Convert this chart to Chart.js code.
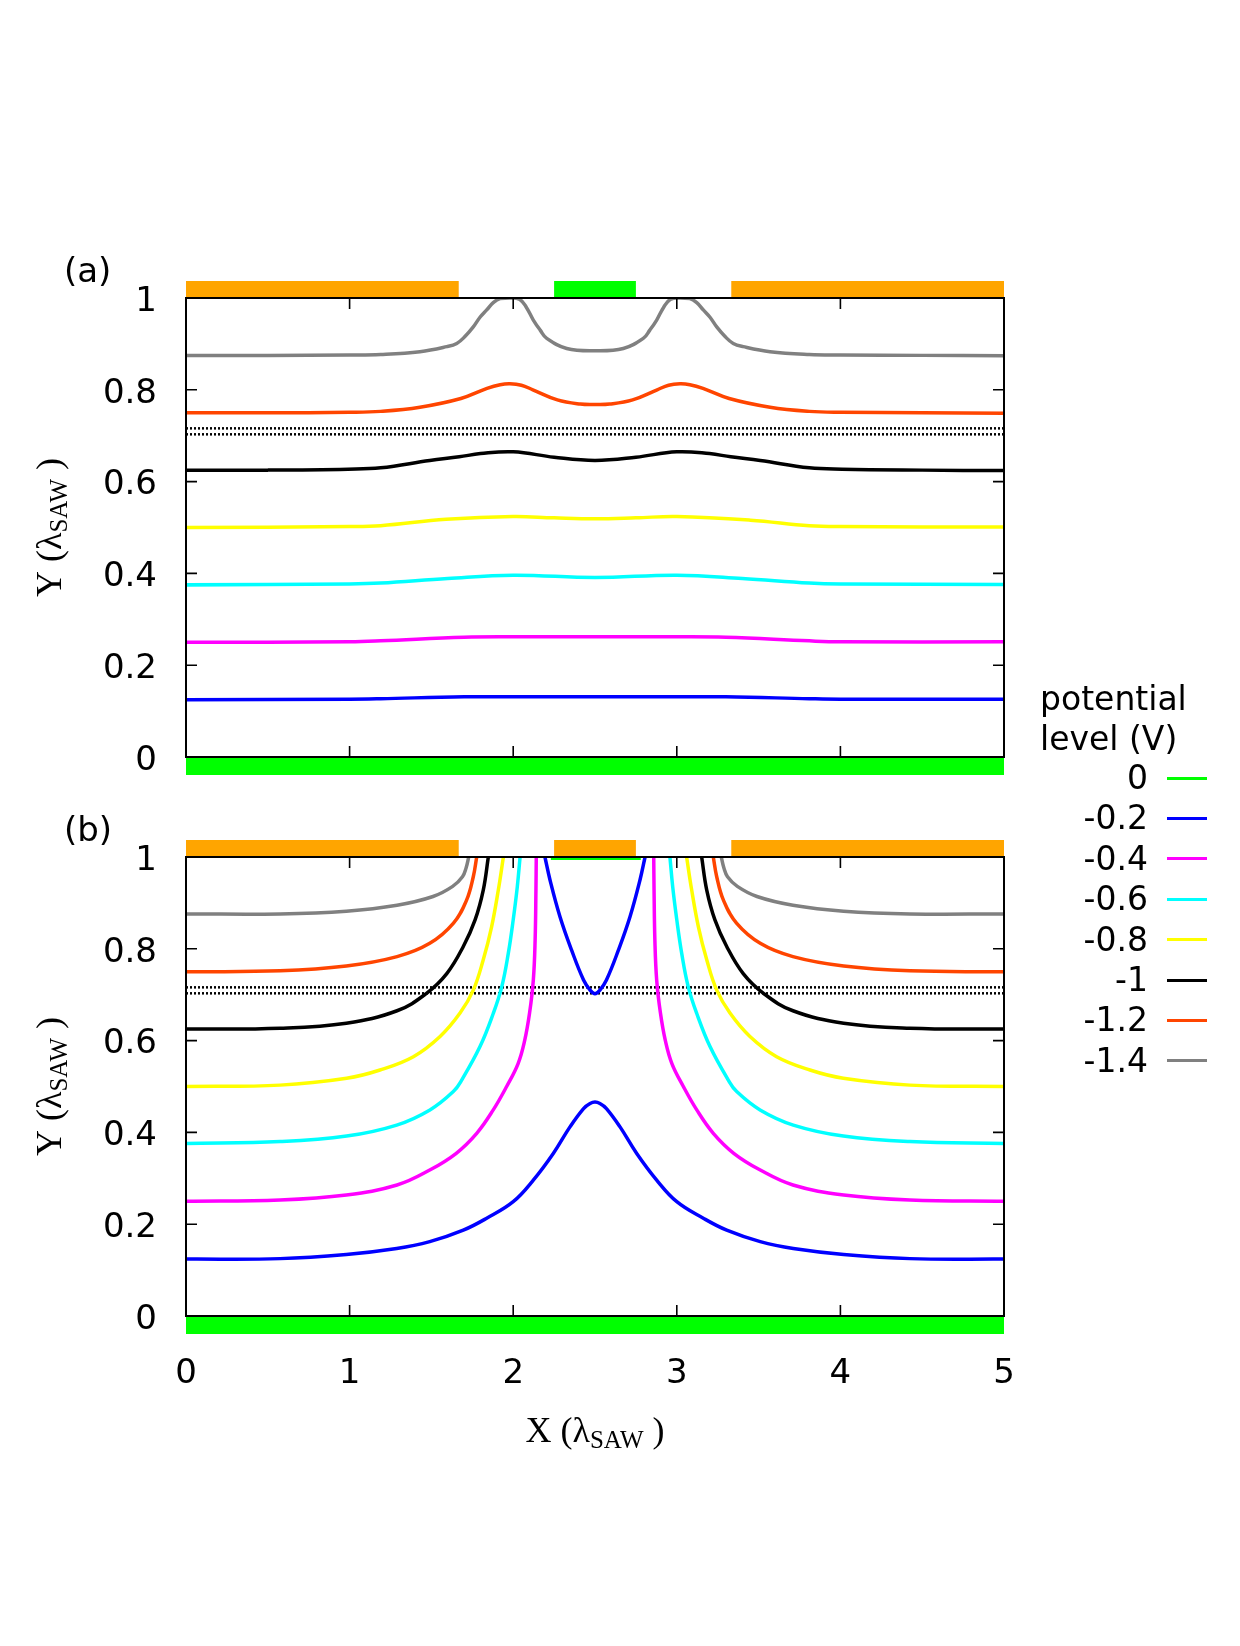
<!DOCTYPE html>
<html>
<head>
<meta charset="utf-8">
<script src="https://cdn.jsdelivr.net/npm/chart.js@4.4.0/dist/chart.umd.min.js"></script>
<style>
  html, body { margin: 0; padding: 0; background: #fff; }
  #page { position: relative; width: 1240px; height: 1646px; overflow: hidden; background: #fff; }
  #page canvas { position: absolute; left: 0; }
  #chartA { top: 0; }
  #chartB { top: 800px; }
  .leg { position: absolute; font-family: "DejaVu Sans", sans-serif; font-size: 33px; color: #000; white-space: nowrap; }
  .legLine { position: absolute; height: 3px; width: 40px; }
</style>
</head>
<body>
<div id="page">
  <canvas id="chartA" width="1240" height="830"></canvas>
  <canvas id="chartB" width="1240" height="846"></canvas>
  <div id="legend"></div>
</div>
<script>
// niveaux de potentiel (V) et couleurs de la légende
const levels = ['0', '-0.2', '-0.4', '-0.6', '-0.8', '-1', '-1.2', '-1.4'];
const levelColors = ['#00ff00', '#0000ff', '#ff00ff', '#00ffff', '#ffff00', '#000000', '#ff4500', '#808080'];

// axes (λSAW)
const xRange = [0, 5];
const yRange = [0, 1];
const xStep = 1;
const yStep = 0.2;

// électrodes : intervalles en X
const topElectrodes = [[0, 1.667], [2.25, 2.75], [3.333, 5]];
const groundElectrode = [0, 5];
// deux lignes pointillées horizontales
const dottedLevels = [0.716, 0.703];

// ---- (a) : contours [x, y]
const a_m02 = [[0, 0.125], [1.0, 0.126], [1.19, 0.127], [1.7, 0.131], [2.5, 0.131], [3.3, 0.131], [3.81, 0.127], [4.0, 0.126], [5, 0.126]];
const a_m04 = [[0, 0.25], [1.0, 0.251], [1.19, 0.253], [1.7, 0.261], [2.0, 0.262], [2.5, 0.262], [3.0, 0.262], [3.3, 0.261],
  [3.81, 0.253], [4.0, 0.251], [5, 0.251]];
const a_m06 = [[0, 0.375], [1.0, 0.377], [1.19, 0.379], [1.6, 0.389], [2.0, 0.396], [2.5, 0.391], [3.0, 0.396], [3.4, 0.389],
  [3.81, 0.379], [4.0, 0.377], [5, 0.376]];
const a_m08 = [[0, 0.5], [1.0, 0.502], [1.19, 0.504], [1.59, 0.518], [2.0, 0.524], [2.25, 0.521], [2.5, 0.519], [2.75, 0.521],
  [3.0, 0.524], [3.45, 0.516], [3.81, 0.504], [4.0, 0.502], [5, 0.501]];
const a_m10 = [[0, 0.625], [0.5, 0.625], [0.99, 0.627], [1.19, 0.630], [1.49, 0.646], [1.67, 0.654], [1.8, 0.661], [2.0, 0.665],
  [2.25, 0.653], [2.5, 0.646], [2.75, 0.653], [3.0, 0.665], [3.2, 0.661], [3.33, 0.654], [3.51, 0.646], [3.81, 0.630],
  [4.01, 0.627], [4.5, 0.625], [5, 0.624]];
const a_m12 = [[0, 0.75], [0.5, 0.75], [1.0, 0.751], [1.19, 0.753], [1.43, 0.762], [1.68, 0.781], [1.84, 0.803], [1.92, 0.811],
  [1.98, 0.813], [2.05, 0.81], [2.12, 0.80], [2.27, 0.778], [2.41, 0.769], [2.5, 0.768], [2.59, 0.769], [2.73, 0.778], [2.88, 0.80],
  [2.95, 0.81], [3.02, 0.813], [3.08, 0.811], [3.16, 0.803], [3.32, 0.781], [3.57, 0.762], [3.81, 0.753], [4.0, 0.751], [4.5, 0.75], [5, 0.749]];
const a_m14 = [[0, 0.875], [0.5, 0.875], [1.0, 0.876], [1.19, 0.877], [1.43, 0.883], [1.594, 0.894], [1.655, 0.901], [1.705, 0.916],
  [1.756, 0.937], [1.797, 0.958], [1.838, 0.974], [1.878, 0.99], [1.92, 0.999], [1.98, 1.0], [2.04, 0.997], [2.08, 0.98], [2.123, 0.952],
  [2.165, 0.93], [2.205, 0.912], [2.327, 0.89], [2.5, 0.885], [2.673, 0.89], [2.795, 0.912], [2.835, 0.93], [2.877, 0.952], [2.92, 0.98],
  [2.96, 0.997], [3.02, 1.0], [3.08, 0.999], [3.122, 0.99], [3.162, 0.974], [3.203, 0.958], [3.244, 0.937], [3.295, 0.916],
  [3.345, 0.901], [3.406, 0.894], [3.57, 0.883], [3.81, 0.877], [4.0, 0.876], [4.5, 0.875], [5, 0.874]];

// ---- (b) : contours [x, y]
const b_0 = [[2.23, 1.0], [2.78, 1.0]];
const b_m02 = [[0, 0.124], [0.575, 0.125], [0.98, 0.134], [1.288, 0.147], [1.49, 0.162], [1.695, 0.187], [1.838, 0.213], [2.0, 0.249],
  [2.123, 0.296], [2.245, 0.354], [2.347, 0.412], [2.43, 0.452], [2.47, 0.463], [2.5, 0.466], [2.53, 0.463], [2.57, 0.452],
  [2.653, 0.412], [2.755, 0.354], [2.877, 0.296], [3.0, 0.249], [3.162, 0.213], [3.305, 0.187], [3.51, 0.162], [3.712, 0.147],
  [4.02, 0.134], [4.425, 0.125], [5, 0.124]];
const b_m02_loop = [[2.194, 1.0], [2.225, 0.95], [2.286, 0.87], [2.357, 0.797], [2.43, 0.732], [2.47, 0.71], [2.5, 0.702],
  [2.53, 0.71], [2.57, 0.732], [2.643, 0.797], [2.714, 0.87], [2.775, 0.95], [2.806, 1.0]];
const b_m04_left = [[0, 0.25], [0.575, 0.2527], [0.98, 0.2636], [1.29, 0.2854], [1.49, 0.318], [1.65, 0.354], [1.777, 0.398],
  [1.878, 0.449], [1.96, 0.50], [2.03, 0.55], [2.07, 0.60], [2.10, 0.66], [2.123, 0.732], [2.134, 0.819], [2.139, 0.928], [2.141, 1.0]];
const b_m04_right = [[2.859, 1.0], [2.861, 0.928], [2.866, 0.819], [2.877, 0.732], [2.90, 0.66], [2.93, 0.60], [2.97, 0.55],
  [3.04, 0.50], [3.122, 0.449], [3.223, 0.398], [3.35, 0.354], [3.51, 0.318], [3.71, 0.2854], [4.02, 0.2636], [4.425, 0.2527], [5, 0.25]];
const b_m06_left = [[0, 0.376], [0.575, 0.380], [0.982, 0.392], [1.288, 0.416], [1.491, 0.449], [1.634, 0.489], [1.685, 0.514],
  [1.797, 0.587], [1.878, 0.659], [1.93, 0.717], [1.97, 0.79], [2.0, 0.863], [2.025, 0.935], [2.042, 1.0]];
const b_m06_right = [[2.958, 1.0], [2.975, 0.935], [3.0, 0.863], [3.03, 0.79], [3.07, 0.717], [3.122, 0.659], [3.203, 0.587],
  [3.315, 0.514], [3.366, 0.489], [3.509, 0.449], [3.712, 0.416], [4.018, 0.392], [4.425, 0.380], [5, 0.376]];
const b_m08_left = [[0, 0.5], [0.575, 0.503], [0.982, 0.518], [1.186, 0.536], [1.39, 0.565], [1.553, 0.609], [1.675, 0.66],
  [1.756, 0.71], [1.817, 0.776], [1.868, 0.848], [1.909, 0.928], [1.94, 1.0]];
const b_m08_right = [[3.06, 1.0], [3.091, 0.928], [3.132, 0.848], [3.183, 0.776], [3.244, 0.71], [3.325, 0.66], [3.447, 0.609],
  [3.61, 0.565], [3.814, 0.536], [4.018, 0.518], [4.425, 0.503], [5, 0.5]];
const b_m10_left = [[0, 0.625], [0.575, 0.627], [0.98, 0.638], [1.29, 0.665], [1.47, 0.703], [1.594, 0.746], [1.695, 0.805],
  [1.767, 0.863], [1.817, 0.928], [1.848, 1.0]];
const b_m10_right = [[3.152, 1.0], [3.183, 0.928], [3.233, 0.863], [3.305, 0.805], [3.406, 0.746], [3.53, 0.703], [3.71, 0.665],
  [4.02, 0.638], [4.425, 0.627], [5, 0.625]];
const b_m12_left = [[0, 0.75], [0.575, 0.752], [0.98, 0.7625], [1.29, 0.783], [1.49, 0.812], [1.635, 0.856], [1.715, 0.906],
  [1.756, 0.957], [1.777, 1.0]];
const b_m12_right = [[3.223, 1.0], [3.244, 0.957], [3.285, 0.906], [3.365, 0.856], [3.51, 0.812], [3.71, 0.783], [4.02, 0.7625],
  [4.425, 0.752], [5, 0.75]];
const b_m14_left = [[0, 0.876], [0.575, 0.876], [0.98, 0.882], [1.29, 0.895], [1.51, 0.914], [1.63, 0.936], [1.69, 0.957],
  [1.712, 0.976], [1.728, 1.0]];
const b_m14_right = [[3.272, 1.0], [3.288, 0.976], [3.31, 0.957], [3.37, 0.936], [3.49, 0.914], [3.71, 0.895], [4.02, 0.882],
  [4.425, 0.876], [5, 0.876]];

// --- construction des datasets (courbes lissées)
function contour(points, color, width) {
  return {
    data: points.map(p => ({ x: p[0], y: p[1] })),
    borderColor: color,
    borderWidth: width || 3.5,
    pointRadius: 0,
    tension: 0.4,
    fill: false
  };
}

function dottedSets() {
  return dottedLevels.map(v => ({
    data: xRange.map(x => ({ x: x, y: v })),
    borderColor: '#000',
    borderWidth: 2.5,
    borderDash: [2, 2],
    pointRadius: 0,
    fill: false
  }));
}

const datasetsA = [
  contour(a_m02, levelColors[1]),
  contour(a_m04, levelColors[2]),
  contour(a_m06, levelColors[3]),
  contour(a_m08, levelColors[4]),
  contour(a_m10, levelColors[5]),
  contour(a_m12, levelColors[6]),
  contour(a_m14, levelColors[7])
].concat(dottedSets());

const datasetsB = [
  contour(b_0, levelColors[0], 6),
  contour(b_m02, levelColors[1]), contour(b_m02_loop, levelColors[1]),
  contour(b_m04_left, levelColors[2]), contour(b_m04_right, levelColors[2]),
  contour(b_m06_left, levelColors[3]), contour(b_m06_right, levelColors[3]),
  contour(b_m08_left, levelColors[4]), contour(b_m08_right, levelColors[4]),
  contour(b_m10_left, levelColors[5]), contour(b_m10_right, levelColors[5]),
  contour(b_m12_left, levelColors[6]), contour(b_m12_right, levelColors[6]),
  contour(b_m14_left, levelColors[7]), contour(b_m14_right, levelColors[7])
].concat(dottedSets());

// titre avec indice (λ_SAW)
function drawSubTitle(ctx, parts, cx, cy) {
  const mainFont = '36px "Liberation Serif", serif';
  const subFont = '25px "Liberation Serif", serif';
  let total = 0;
  parts.forEach(p => { ctx.font = p[1] ? subFont : mainFont; total += ctx.measureText(p[0]).width; });
  let x = cx - total / 2;
  ctx.textAlign = 'left';
  ctx.textBaseline = 'middle';
  ctx.fillStyle = '#000';
  parts.forEach(p => {
    ctx.font = p[1] ? subFont : mainFont;
    ctx.fillText(p[0], x, cy + (p[1] ? 8 : 0));
    x += ctx.measureText(p[0]).width;
  });
}

// cadre, graduations intérieures, électrodes, titres
function panelPlugin(label, middleColor, showXTitle) {
  return {
    id: 'panelDeco',
    afterDatasetsDraw(chart) {
      const { ctx, chartArea: a, scales: { x, y } } = chart;
      ctx.save();

      // électrodes du haut
      topElectrodes.forEach((e, i) => {
        const x0 = x.getPixelForValue(e[0]);
        const x1 = x.getPixelForValue(e[1]);
        ctx.fillStyle = i === 1 ? middleColor : '#ffa500';
        ctx.fillRect(x0, a.top - 17, x1 - x0, 17);
      });
      // masse en bas
      const g0 = x.getPixelForValue(groundElectrode[0]);
      const g1 = x.getPixelForValue(groundElectrode[1]);
      ctx.fillStyle = '#00ff00';
      ctx.fillRect(g0, a.bottom, g1 - g0, 18);

      // cadre
      ctx.strokeStyle = '#000';
      ctx.lineWidth = 2;
      ctx.strokeRect(a.left, a.top, a.right - a.left, a.bottom - a.top);

      // graduations vers l'intérieur
      ctx.lineWidth = 1.6;
      ctx.beginPath();
      y.ticks.forEach(t => {
        const py = y.getPixelForValue(t.value);
        ctx.moveTo(a.left, py); ctx.lineTo(a.left + 11, py);
        ctx.moveTo(a.right, py); ctx.lineTo(a.right - 11, py);
      });
      x.ticks.forEach(t => {
        const px = x.getPixelForValue(t.value);
        ctx.moveTo(px, a.bottom); ctx.lineTo(px, a.bottom - 11);
        ctx.moveTo(px, a.top); ctx.lineTo(px, a.top + 11);
      });
      ctx.stroke();

      // étiquette (a)/(b)
      ctx.fillStyle = '#000';
      ctx.font = '34px "DejaVu Sans", sans-serif';
      ctx.textAlign = 'left';
      ctx.textBaseline = 'middle';
      ctx.fillText(label, 64, a.top - 25);

      // titre axe Y (vertical)
      ctx.save();
      ctx.translate(52, (a.top + a.bottom) / 2);
      ctx.rotate(-Math.PI / 2);
      drawSubTitle(ctx, [['Y (\u03bb', false], ['SAW', true], [' )', false]], 0, 0);
      ctx.restore();

      // titre axe X
      if (showXTitle) {
        drawSubTitle(ctx, [['X (\u03bb', false], ['SAW', true], [' )', false]], (a.left + a.right) / 2, a.bottom + 117);
      }
      ctx.restore();
    }
  };
}

const tickFont = { family: 'DejaVu Sans', size: 34 };

function makeOptions(showXLabels, xHeight) {
  return {
    responsive: false,
    animation: false,
    events: [],
    layout: { padding: { left: 0, right: 236, top: 0, bottom: 0 } },
    plugins: { legend: { display: false }, tooltip: { enabled: false } },
    scales: {
      x: {
        type: 'linear', min: xRange[0], max: xRange[1],
        grid: { display: false, drawTicks: false }, border: { display: false },
        ticks: {
          display: showXLabels, stepSize: xStep, padding: 38,
          color: '#000', font: tickFont, maxRotation: 0
        },
        afterFit: s => { s.height = xHeight; }
      },
      y: {
        type: 'linear', min: yRange[0], max: yRange[1],
        grid: { display: false, drawTicks: false }, border: { display: false },
        ticks: {
          stepSize: yStep, padding: 29, labelOffset: 4,
          color: '#000', font: tickFont,
          callback: v => String(Number(v.toFixed(2)))
        },
        afterFit: s => { s.width = 186; }
      }
    }
  };
}

// panneau (a)
const optA = makeOptions(false, 73);
optA.layout.padding.top = 298;
new Chart(document.getElementById('chartA'), {
  type: 'line',
  data: { datasets: datasetsA },
  options: optA,
  plugins: [panelPlugin('(a)', '#00ff00', false)]
});

// panneau (b)
const optB = makeOptions(true, 330);
optB.layout.padding.top = 57;
new Chart(document.getElementById('chartB'), {
  type: 'line',
  data: { datasets: datasetsB },
  options: optB,
  plugins: [panelPlugin('(b)', '#ffa500', true)]
});

// légende HTML
const legend = document.getElementById('legend');
function addText(txt, css) {
  const d = document.createElement('div');
  d.className = 'leg';
  d.textContent = txt;
  Object.assign(d.style, css);
  legend.appendChild(d);
}
addText('potential', { left: '1040px', top: '679px', lineHeight: '40px' });
addText('level (V)', { left: '1040px', top: '719px', lineHeight: '40px' });
levels.forEach((lv, i) => {
  const cy = 778 + i * 40.4;
  addText(lv, { right: '92px', top: (cy - 20) + 'px', lineHeight: '40px', textAlign: 'right' });
  const line = document.createElement('div');
  line.className = 'legLine';
  line.style.left = '1167px';
  line.style.top = (cy - 1.5) + 'px';
  line.style.background = levelColors[i];
  legend.appendChild(line);
});
</script>
</body>
</html>
